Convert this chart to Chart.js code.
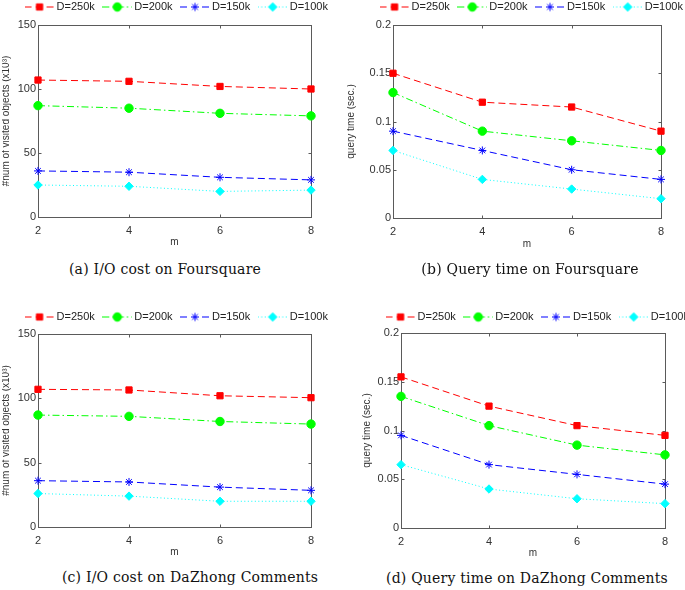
<!DOCTYPE html>
<html lang="en">
<head>
<meta charset="UTF-8"/>
<title>I/O cost and query time vs m</title>
<script src="https://cdn.jsdelivr.net/npm/chart.js"></script>
<style>
    html, body {
        margin: 0;
        padding: 0;
        background: #fff;
        width: 685px;
        height: 590px;
        overflow: hidden;
        position: relative;
    }
    canvas {
        position: absolute;
        display: block;
    }
    .caption {
        position: absolute;
        transform: translateX(-50%);
        font-family: 'DejaVu Serif', serif;
        font-size: 14px;
        line-height: 16px;
        letter-spacing: 0.2px;
        color: #111;
        white-space: nowrap;
    }
</style>
</head>
<body>
<canvas id="chartA"></canvas>
<canvas id="chartB"></canvas>
<canvas id="chartC"></canvas>
<canvas id="chartD"></canvas>

<div class="caption" style="left:165px; top:261px;">(a) I/O cost on Foursquare</div>
<div class="caption" style="left:530px; top:261px;">(b) Query time on Foursquare</div>
<div class="caption" style="left:190px; top:569px;">(c) I/O cost on DaZhong Comments</div>
<div class="caption" style="left:527px; top:570px;">(d) Query time on DaZhong Comments</div>

<script>
    // x values (m) and legend names
    const mValues = [2, 4, 6, 8];
    const seriesNames = ['D=250k', 'D=200k', 'D=150k', 'D=100k'];

    // (a) I/O cost on Foursquare (#visited objects, x10^3)
    const ioFsq250 = [107, 106, 102, 100];
    const ioFsq200 = [87, 85, 81, 79];
    const ioFsq150 = [36, 35, 31, 29];
    const ioFsq100 = [25, 24, 20, 21];

    // (b) query time on Foursquare (sec.)
    const qtFsq250 = [0.15, 0.12, 0.115, 0.09];
    const qtFsq200 = [0.13, 0.09, 0.08, 0.07];
    const qtFsq150 = [0.09, 0.07, 0.05, 0.04];
    const qtFsq100 = [0.07, 0.04, 0.03, 0.02];

    // (c) I/O cost on DaZhong Comments
    const ioDz250 = [107, 106.5, 102, 100.5];
    const ioDz200 = [87, 86, 82, 80];
    const ioDz150 = [36, 35, 31, 28.5];
    const ioDz100 = [26, 24, 20, 20];

    // (d) query time on DaZhong Comments
    const qtDz250 = [0.155, 0.125, 0.105, 0.095];
    const qtDz200 = [0.135, 0.105, 0.085, 0.075];
    const qtDz150 = [0.095, 0.065, 0.055, 0.045];
    const qtDz100 = [0.065, 0.04, 0.03, 0.025];

    // axis ranges
    const ioTicks = [0, 50, 100, 150];
    const qtTicks = [0, 0.05, 0.1, 0.15, 0.2];

    // matlab-ish line styles
    const seriesColors = ['#ff0000', '#00ff00', '#0000ff', '#00ffff'];
    const seriesDash = [[7, 4], [7, 3, 1.5, 3], [7, 4], [1, 2.5]];
    const seriesMarkers = ['rect', 'circle', 'star', 'rectRot'];
    const markerRadius = [4.4, 4.2, 4, 4.2];

    const sans = "'Liberation Sans', Arial, sans-serif";
    const LEGEND_PAD = 11;

    function legendIcon(i) {
        const c = document.createElement('canvas');
        c.width = 30;
        c.height = 12;
        const g = c.getContext('2d');
        g.strokeStyle = seriesColors[i];
        g.fillStyle = seriesColors[i];
        g.lineWidth = 1;
        g.setLineDash(seriesDash[i]);
        g.beginPath();
        g.moveTo(0, 6.5);
        g.lineTo(30, 6.5);
        g.stroke();
        g.setLineDash([]);
        Chart.helpers.drawPoint(g, {
            pointStyle: seriesMarkers[i], radius: markerRadius[i], rotation: 0, borderWidth: 1
        }, 15, 6.5);
        return c;
    }

    // box around the plot with inward ticks on all four sides
    const boxPlugin = {
        id: 'matlabBox',
        beforeDatasetsDraw(chart) {
            const {ctx, chartArea: a, scales} = chart;
            const l = Math.round(a.left) + 0.5, r = Math.round(a.right) + 0.5;
            const t = Math.round(a.top) + 0.5, b = Math.round(a.bottom) + 0.5;
            ctx.save();
            ctx.strokeStyle = '#5a5a5a';
            ctx.lineWidth = 1;
            ctx.strokeRect(l, t, r - l, b - t);
            ctx.beginPath();
            scales.x.ticks.forEach(tk => {
                const px = Math.round(scales.x.getPixelForValue(tk.value)) + 0.5;
                ctx.moveTo(px, b); ctx.lineTo(px, b - 3);
                ctx.moveTo(px, t); ctx.lineTo(px, t + 3);
            });
            scales.y.ticks.forEach(tk => {
                const py = Math.round(scales.y.getPixelForValue(tk.value)) + 0.5;
                ctx.moveTo(l, py); ctx.lineTo(l + 3, py);
                ctx.moveTo(r, py); ctx.lineTo(r - 3, py);
            });
            ctx.stroke();
            ctx.restore();
        }
    };

    function makePanel(id, geo, yTicks, yTitle, series) {
        const el = document.getElementById(id);
        el.width = geo.w;
        el.height = geo.h;
        el.style.left = geo.x + 'px';
        el.style.top = geo.y + 'px';

        // plot rectangle in canvas coordinates
        const pl = geo.plotL - geo.x, pr = geo.plotR - geo.x;
        const pt = geo.plotT - geo.y, pb = geo.plotB - geo.y;

        const datasets = series.map((vals, i) => ({
            label: seriesNames[i],
            data: mValues.map((m, k) => ({x: m, y: vals[k]})),
            xAxisID: 'x',
            yAxisID: 'y',
            showLine: true,
            borderColor: seriesColors[i],
            borderWidth: 1,
            borderDash: seriesDash[i],
            pointStyle: seriesMarkers[i],
            pointRadius: markerRadius[i],
            pointHoverRadius: markerRadius[i],
            pointBackgroundColor: seriesColors[i],
            pointBorderColor: seriesColors[i],
            pointBorderWidth: 1,
            fill: false,
            tension: 0,
            clip: false
        }));

        const yStep = yTicks[1] - yTicks[0];
        const yMax = yTicks[yTicks.length - 1];

        return new Chart(el, {
            type: 'line',
            data: {datasets},
            plugins: [boxPlugin],
            options: {
                responsive: false,
                animation: false,
                devicePixelRatio: 1,
                layout: {padding: 0},
                scales: {
                    x: {
                        type: 'linear',
                        position: 'bottom',
                        min: mValues[0],
                        max: mValues[mValues.length - 1],
                        grid: {display: false, drawTicks: false},
                        border: {display: false},
                        ticks: {stepSize: 2, padding: 7, color: '#333', font: {family: sans, size: 11}},
                        title: {display: true, text: 'm', color: '#333', padding: 0, font: {family: sans, size: 10}},
                        afterFit: s => { s.height = geo.h - pb; }
                    },
                    y: {
                        type: 'linear',
                        position: 'left',
                        min: 0,
                        max: yMax,
                        grid: {display: false, drawTicks: false},
                        border: {display: false},
                        ticks: {
                            stepSize: yStep,
                            padding: 2,
                            color: '#333',
                            font: {family: sans, size: 11},
                            callback: v => String(+v.toFixed(3))
                        },
                        title: {display: true, text: yTitle, color: '#333', padding: {top: geo.titlePad, bottom: 0}, font: {family: sans, size: 10}},
                        afterFit: s => { s.width = pl; }
                    },
                    xTop: {
                        type: 'linear',
                        position: 'top',
                        display: true,
                        grid: {display: false, drawTicks: false},
                        border: {display: false},
                        ticks: {display: false},
                        afterFit: s => { s.height = Math.max(0, pt - s.chart.legend.height); }
                    },
                    yRight: {
                        type: 'linear',
                        position: 'right',
                        display: true,
                        grid: {display: false, drawTicks: false},
                        border: {display: false},
                        ticks: {display: false},
                        afterFit: s => { s.width = geo.w - pr; }
                    }
                },
                plugins: {
                    tooltip: {enabled: false},
                    legend: {
                        display: true,
                        position: 'top',
                        align: 'center',
                        labels: {
                            usePointStyle: true,
                            pointStyleWidth: 23,
                            padding: LEGEND_PAD,
                            color: '#222',
                            font: {family: sans, size: 11},
                            generateLabels: chart => chart.data.datasets.map((ds, i) => ({
                                text: ds.label,
                                pointStyle: legendIcon(i),
                                fillStyle: seriesColors[i],
                                strokeStyle: seriesColors[i],
                                lineWidth: 0,
                                fontColor: '#222',
                                hidden: false,
                                datasetIndex: i
                            }))
                        }
                    }
                }
            }
        });
    }

    const ioTitle = '#num of visited objects (x10\u00B3)';
    const qtTitle = 'query time (sec.)';

    makePanel('chartA', {x: 2, y: -10, w: 352, h: 258, plotL: 38, plotR: 311, plotT: 25, plotB: 217, titlePad: -1.5},
        ioTicks, ioTitle, [ioFsq250, ioFsq200, ioFsq150, ioFsq100]);
    makePanel('chartB', {x: 347, y: -10, w: 372, h: 260, plotL: 393, plotR: 661, plotT: 25, plotB: 218, titlePad: -1.5},
        qtTicks, qtTitle, [qtFsq250, qtFsq200, qtFsq150, qtFsq100]);
    makePanel('chartC', {x: 2, y: 300, w: 352, h: 258, plotL: 38, plotR: 311, plotT: 334, plotB: 527, titlePad: -1.5},
        ioTicks, ioTitle, [ioDz250, ioDz200, ioDz150, ioDz100]);
    makePanel('chartD', {x: 362, y: 300, w: 354, h: 259, plotL: 401, plotR: 665, plotT: 333, plotB: 528, titlePad: -1},
        qtTicks, qtTitle, [qtDz250, qtDz200, qtDz150, qtDz100]);
</script>
</body>
</html>
